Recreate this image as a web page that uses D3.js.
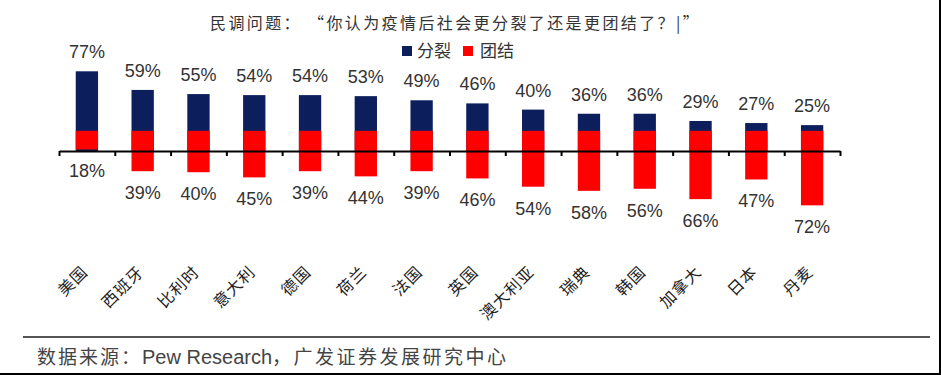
<!DOCTYPE html>
<html lang="zh">
<head>
<meta charset="UTF-8">
<title>疫情后社会更分裂还是更团结</title>
<script src="https://d3js.org/d3.v7.min.js"></script>
<style>
  body { margin: 0; background: #fff; }
  svg { display: block; font-family: "Noto Sans CJK SC", sans-serif; }
  .val { font-family: "Liberation Sans", Arial, sans-serif; font-size: 18px; fill: #333; text-anchor: middle; }
  .cat { font-size: 16px; fill: #222; text-anchor: end; letter-spacing: 1px; }
</style>
</head>
<body>
<svg width="941" height="375"></svg>
<script>
const countries = ["美国","西班牙","比利时","意大利","德国","荷兰","法国","英国","澳大利亚","瑞典","韩国","加拿大","日本","丹麦"];
const divided = [77,59,55,54,54,53,49,46,40,36,36,29,27,25];
const united  = [18,39,40,45,39,44,39,46,54,58,56,66,47,72];
const seriesNames = ["分裂","团结"];
const colors = ["#0c1f5c","#fe0000"];

// red bars in the original hang from a shifted baseline
const redBase = 19.5;

const svg = d3.select("svg");

const x = d3.scaleBand().domain(countries).range([59, 840]).paddingInner(0.6).paddingOuter(0.3);
const y = d3.scaleLinear().domain([-70, 80]).range([151 + 72.45, 151 - 82.8]);
const xt = d3.scaleLinear().domain([0, countries.length]).range([59, 840]);

// title
svg.append("text").attr("x", 210).attr("y", 29)
  .style("font-size", "16px").style("letter-spacing", "2.4px").attr("fill", "#333")
  .text("民调问题：  “你认为疫情后社会更分裂了还是更团结了？|”");

// legend
const leg = svg.append("g");
[[402, 417], [463, 480]].forEach(function(p, i) {
  leg.append("rect").attr("x", p[0]).attr("y", 46).attr("width", 10).attr("height", 10).attr("fill", colors[i]);
  leg.append("text").attr("x", p[1]).attr("y", 57).style("font-size", "17px").attr("fill", "#333").text(seriesNames[i]);
});

// bars
svg.append("g").selectAll("rect").data(countries).enter().append("rect")
  .attr("x", d => x(d)).attr("width", x.bandwidth())
  .attr("y", (d, i) => y(divided[i]))
  .attr("height", (d, i) => y(0) - y(divided[i]))
  .attr("fill", colors[0]);

svg.append("g").selectAll("rect").data(countries).enter().append("rect")
  .attr("x", d => x(d)).attr("width", x.bandwidth())
  .attr("y", y(redBase))
  .attr("height", (d, i) => y(redBase - united[i]) - y(redBase))
  .attr("fill", colors[1]);

// axis
const ax = svg.append("g").attr("transform", "translate(0," + y(0) + ")")
  .call(d3.axisBottom(xt).tickValues(d3.range(countries.length + 1)).tickSize(5).tickSizeOuter(0).tickFormat(""));
ax.select(".domain").attr("stroke", "#000").attr("stroke-width", 2);
ax.selectAll(".tick line").attr("stroke", "#000").attr("stroke-width", 2);

// value labels
svg.append("g").selectAll("text").data(countries).enter().append("text")
  .attr("class", "val")
  .attr("x", d => x(d) + x.bandwidth() / 2)
  .attr("y", (d, i) => y(divided[i]) - 13)
  .text((d, i) => divided[i] + "%");

svg.append("g").selectAll("text").data(countries).enter().append("text")
  .attr("class", "val")
  .attr("x", d => x(d) + x.bandwidth() / 2)
  .attr("y", (d, i) => y(redBase - united[i]) + 28)
  .text((d, i) => united[i] + "%");

// category labels
svg.append("g").selectAll("text").data(countries).enter().append("text")
  .attr("class", "cat")
  .attr("transform", d => "translate(" + (x(d) + x.bandwidth() / 2 + 2) + ",273) rotate(-45)")
  .text(d => d);

// footer
svg.append("line").attr("x1", 23).attr("x2", 930).attr("y1", 337).attr("y2", 337)
  .attr("stroke", "#555").attr("stroke-width", 2);
const src = svg.append("text").attr("x", 37).attr("y", 364)
  .style("font-size", "19px").style("letter-spacing", "2px").attr("fill", "#444");
src.append("tspan").text("数据来源：");
src.append("tspan").style("font-family", "'Liberation Sans', Arial, sans-serif").style("font-size", "20px")
  .style("letter-spacing", "0px").text("Pew Research");
src.append("tspan").style("letter-spacing", "2.5px").text("，广发证券发展研究中心");

// frame edge
svg.append("line").attr("x1", 940).attr("x2", 940).attr("y1", 0).attr("y2", 375).attr("stroke", "#000").attr("stroke-width", 2);
svg.append("line").attr("x1", 0).attr("x2", 941).attr("y1", 374).attr("y2", 374).attr("stroke", "#000").attr("stroke-width", 2);
</script>
</body>
</html>
